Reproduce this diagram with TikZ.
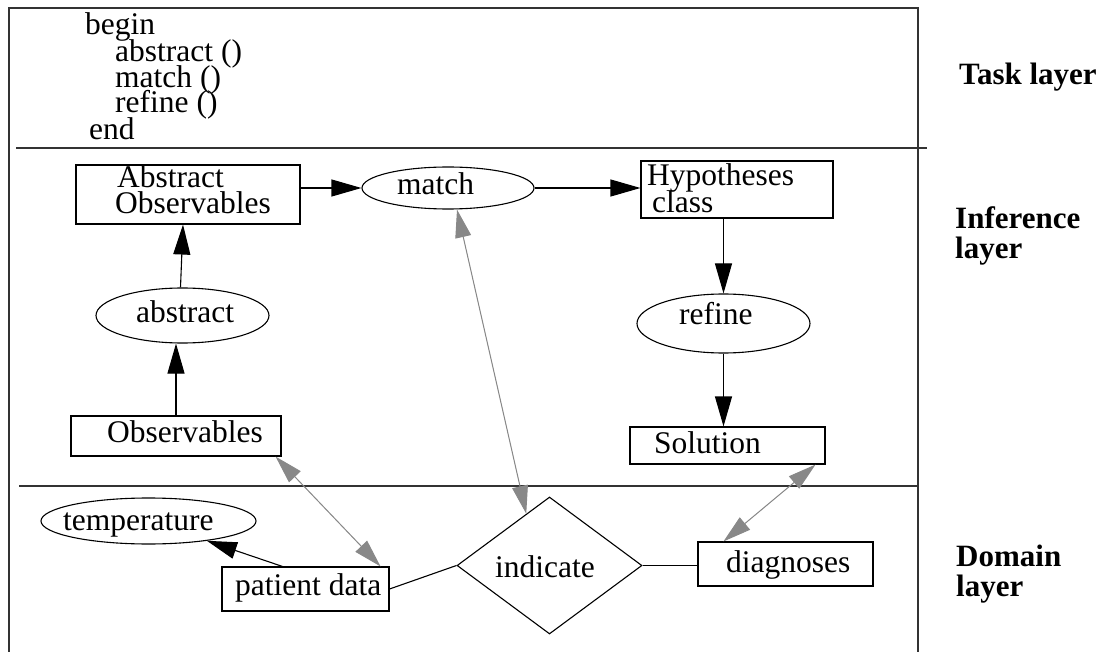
\documentclass[tikz,border=0pt]{standalone}
\usepackage{fontspec}
\setmainfont{Liberation Serif}
\usetikzlibrary{arrows.meta,shapes.geometric,calc}
\definecolor{arrgray}{RGB}{136,136,136}
\begin{document}
\begin{tikzpicture}[x=1pt,y=-1pt,
  txt/.style={anchor=base west, inner sep=0pt, font=\fontsize{31.5}{26}\selectfont},
  boldtxt/.style={anchor=base west, inner sep=0pt, font=\fontsize{31}{26}\selectfont\bfseries},
  box/.style={draw, rectangle, inner sep=0pt, line width=1.1pt},
  oval/.style={draw, ellipse, inner sep=0pt, line width=1.1pt},
  blk/.style={line width=1.1pt, -{Triangle[length=30pt,width=17pt]}},
  gry/.style={draw=arrgray, line width=1pt, {Triangle[length=28pt,width=16pt]}-{Triangle[length=28pt,width=16pt]}, fill=arrgray},
  lnk/.style={line width=1.1pt},
  frame/.style={line width=1.3pt, draw=black!80}]
\useasboundingbox (0,0) rectangle (1108,652);
% frame and layer separators
\draw[frame] (9,652) -- (9,8) -- (918,8) -- (918,652);
\draw[frame] (16,148) -- (927,148);
\draw[frame] (19,486) -- (919,486);
% task layer text
\node[txt] (tbegin) at (85,35) {begin};
\node[txt] (tabs) at (115,62) {abstract ()};
\node[txt] (tmatch) at (115,88) {match ()};
\node[txt] (trefine) at (115,113) {refine ()};
\node[txt] (tend) at (89,140) {end};
% layer labels
\node[boldtxt] (ltask) at (959,85) {Task layer};
\node[boldtxt] (linf1) at (955,229) {Inference};
\node[boldtxt] (linf2) at (955,259) {layer};
\node[boldtxt] (ldom1) at (956,566) {Domain};
\node[boldtxt] (ldom2) at (956,596) {layer};
% shapes
\node[box, minimum width=224pt, minimum height=59pt] (AO) at (188,194.5) {};
\node[oval, minimum width=172pt, minimum height=42pt] (match) at (448,188) {};
\node[box, minimum width=192pt, minimum height=57pt] (hyp) at (737,189.5) {};
\node[oval, minimum width=173pt, minimum height=55pt] (abstract) at (182.5,315.5) {};
\node[oval, minimum width=173pt, minimum height=59pt] (refine) at (723.5,323.5) {};
\node[box, minimum width=210pt, minimum height=40pt] (obs) at (176,436) {};
\node[box, minimum width=195pt, minimum height=37pt] (sol) at (727.5,445.5) {};
\node[oval, minimum width=215pt, minimum height=46pt] (temp) at (148.5,521) {};
\node[box, minimum width=167pt, minimum height=44pt] (patient) at (305.5,589) {};
\node[draw, diamond, inner sep=0pt, line width=1.1pt, minimum width=185pt, minimum height=137pt] (ind) at (549.5,565.5) {};
\node[box, minimum width=175pt, minimum height=44pt] (diag) at (785.5,564) {};
% texts inside shapes
\node[txt] (tAO1) at (117,188) {Abstract};
\node[txt] (tAO2) at (115,214) {Observables};
\node[txt] (tmt) at (397,195) {match};
\node[txt] (thyp1) at (647,186) {Hypotheses};
\node[txt] (thyp2) at (652,213) {class};
\node[txt] (tab) at (136,323) {abstract};
\node[txt] (tref) at (679,324) {refine};
\node[txt] (tobs) at (107,442) {Observables};
\node[txt] (tsol) at (654,453) {Solution};
\node[txt] (ttemp) at (63,530) {temperature};
\node[txt] (tpat) at (235,595) {patient data};
\node[txt] (tind) at (495,577) {indicate};
\node[txt] (tdiag) at (726,572) {diagnoses};
% black arrows
\draw[blk] (AO.east |- match.west) -- (match.west);
\draw[blk] (match.east) -- (match.east -| hyp.west);
\draw[blk] (refine.north |- hyp.south) -- (refine.north);
\draw[blk] (refine.south) -- (refine.south |- sol.north);
\draw[blk] ([xshift=-2pt]abstract.north) -- ([xshift=-5pt]AO.south);
\draw[blk] (obs.north) -- (obs.north |- abstract.south);
\draw[blk] ([xshift=61pt]patient.north west) -- (temp);
% plain lines
\draw[lnk] (patient.east) -- (ind.west);
\draw[lnk] (ind.east) -- (ind.east -| diag.west);
% gray double arrows
\draw[gry] ([xshift=-6pt]obs.south east) -- ([xshift=-9pt]patient.north east);
\draw[gry] ([xshift=9pt]match.south) -- ($(ind.north)!0.25!(ind.west)$);
\draw[gry] ([xshift=-10pt]sol.south east) -- ([xshift=26pt]diag.north west);
\end{tikzpicture}
\end{document}
